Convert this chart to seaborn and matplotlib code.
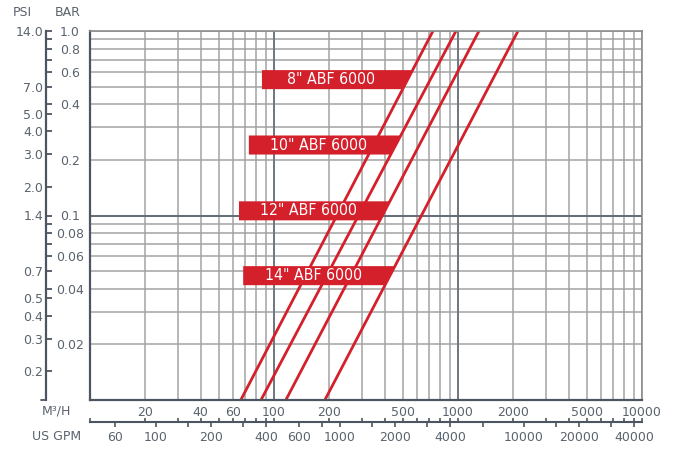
import matplotlib.pyplot as plt
import numpy as np
import pandas as pd
import seaborn as sns
from matplotlib.ticker import NullFormatter

# pressure loss lines, read at the bottom (0.01 bar) and top (1.0 bar) of the grid
sizes = ['8"', '10"', '12"', '14"']
flow_at_low = [66, 85, 116, 189]        # M3/H at 0.01 bar
flow_at_high = [731, 975, 1300, 2119]   # M3/H at 1.0 bar
bar_low = 0.01
bar_high = 1.0

# label bands: centre pressure and left end flow
label_bar = [0.545, 0.241, 0.106, 0.0472]
label_start = [86, 73, 64.5, 68]

bar_ticks = [1.0, 0.8, 0.6, 0.4, 0.2, 0.1, 0.08, 0.06, 0.04, 0.02]
bar_labels = ['1.0', '0.8', '0.6', '0.4', '0.2', '0.1', '0.08', '0.06', '0.04', '0.02']
psi_ticks = [14.0, 7.0, 5.0, 4.0, 3.0, 2.0, 1.4, 0.7, 0.5, 0.4, 0.3, 0.2]
psi_labels = ['14.0', '7.0', '5.0', '4.0', '3.0', '2.0', '1.4', '0.7', '0.5', '0.4', '0.3', '0.2']
psi_minor_bar = [0.9, 0.8, 0.7, 0.6, 0.4, 0.09, 0.08, 0.07, 0.06, 0.04]
m3h_ticks = [20, 40, 60, 100, 200, 500, 1000, 2000, 5000, 10000]
gpm_ticks = [60, 100, 150, 200, 300, 400, 600, 800, 1000, 1500, 2000,
             3000, 4000, 6000, 10000, 15000, 20000, 30000, 40000]
gpm_labelled = [60, 100, 200, 400, 600, 1000, 2000, 4000, 10000, 20000, 40000]

GPM_PER_M3H = 4.4
PSI_PER_BAR = 14.0

RED = '#d4202b'
DARK = '#4c5662'
GRID = '#a3a3a3'
TEXT = '#5a636d'


def decade_values(start, stop):
    vals = [m * 10.0 ** e for e in range(start, stop) for m in range(1, 10)]
    return vals + [10.0 ** stop]


def flow_on_line(i, bar):
    lo, hi = np.log10(flow_at_low[i]), np.log10(flow_at_high[i])
    t = (np.log10(bar) - np.log10(bar_low)) / (np.log10(bar_high) - np.log10(bar_low))
    return 10 ** (lo + t * (hi - lo))


def montar_grade(ax):
    ax.set_xscale('log')
    ax.set_yscale('log')
    ax.set_xlim(10, 10000)
    ax.set_ylim(0.01, 1.0)

    ax.set_xticks(m3h_ticks, labels=[str(v) for v in m3h_ticks])
    ax.set_xticks([v for v in decade_values(1, 4) if v not in m3h_ticks], minor=True)
    ax.set_yticks(bar_ticks, labels=bar_labels)
    ax.set_yticks([v for v in decade_values(-2, 0) if v not in bar_ticks], minor=True)
    ax.xaxis.set_minor_formatter(NullFormatter())
    ax.yaxis.set_minor_formatter(NullFormatter())

    ax.set_axisbelow(True)
    ax.grid(which='both', color=GRID, lw=1.1)
    for v in (100, 1000):
        ax.axvline(v, color='#6b737c', lw=1.3, zorder=1)
    ax.axhline(0.1, color='#5e6873', lw=1.3, zorder=1)

    ax.tick_params(which='both', length=0, labelsize=9, labelcolor=TEXT)
    ax.tick_params(axis='x', pad=4)
    ax.tick_params(axis='y', pad=14.5)
    for lbl in ax.get_yticklabels():
        lbl.set_ha('center')

    for side in ('left', 'bottom'):
        ax.spines[side].set_color(DARK)
        ax.spines[side].set_linewidth(1.6)
    for side in ('top', 'right'):
        ax.spines[side].set_color('#8c8c8c')
        ax.spines[side].set_linewidth(1.2)
    ax.set_xlabel('')
    ax.set_ylabel('')

    return None


def eixos_extras(ax):
    # PSI scale on the far left
    psi = ax.secondary_yaxis(-0.0797, functions=(lambda b: b * PSI_PER_BAR,
                                                  lambda p: p / PSI_PER_BAR))
    psi.set_yticks(psi_ticks, labels=psi_labels)
    psi.set_yticks([b * PSI_PER_BAR for b in psi_minor_bar], minor=True)
    psi.yaxis.set_minor_formatter(NullFormatter())
    psi.tick_params(which='both', direction='in', length=4.3, width=1.3,
                    color=DARK, labelsize=9, labelcolor=TEXT, pad=2)
    psi.spines['left'].set_color(DARK)
    psi.spines['left'].set_linewidth(1.6)
    ax.plot([-0.0797 - 0.009, -0.0797], [0, 0], transform=ax.transAxes,
            color=DARK, lw=1.3, clip_on=False)

    # upward M3/H ticks on the lower scale line
    sub = ax.secondary_xaxis(-0.0596, functions=(lambda x: x, lambda x: x))
    sub.set_xticks(decade_values(1, 4), labels=[''] * 28)
    sub.set_xticks([], minor=True)
    sub.tick_params(which='both', direction='in', length=3.2, width=1.2, color=DARK)
    sub.spines['bottom'].set_color(DARK)
    sub.spines['bottom'].set_linewidth(1.5)

    # US GPM scale
    gpm = ax.secondary_xaxis(-0.0596, functions=(lambda m: m * GPM_PER_M3H,
                                                  lambda g: g / GPM_PER_M3H))
    gpm.set_xticks(gpm_ticks, labels=[str(v) if v in gpm_labelled else '' for v in gpm_ticks])
    gpm.set_xticks([], minor=True)
    gpm.tick_params(which='both', direction='out', length=3.4, width=1.2,
                    color=DARK, labelsize=9, labelcolor=TEXT, pad=3)
    gpm.spines['bottom'].set_visible(False)

    fig = ax.figure
    fig.text(22 / 677, 1 - 12 / 450, 'PSI', ha='center', va='center', fontsize=9, color=TEXT)
    fig.text(68 / 677, 1 - 12 / 450, 'BAR', ha='center', va='center', fontsize=9, color=TEXT)
    fig.text(56 / 677, 1 - 411 / 450, 'M³/H', ha='center', va='center', fontsize=9, color=TEXT)
    fig.text(57 / 677, 1 - 437 / 450, 'US GPM', ha='center', va='center', fontsize=9, color=TEXT)

    return None


def rotulos(ax):
    half = 0.0516  # band half height in decades
    for i, size in enumerate(sizes):
        yb = label_bar[i] / 10 ** half
        yt = label_bar[i] * 10 ** half
        x0 = label_start[i]
        xs = [x0, flow_on_line(i, yb), flow_on_line(i, yt), x0]
        ys = [yb, yb, yt, yt]
        ax.fill(xs, ys, color=RED, lw=0, zorder=3)
        xr = flow_on_line(i, label_bar[i])
        xc = 10 ** ((np.log10(x0) + np.log10(xr)) / 2) * 0.96
        ax.text(xc, label_bar[i], f'{size} ABF 6000', color='white', ha='center',
                va='center', fontsize=11.3, fontstretch='condensed',
                family='DejaVu Sans', zorder=4)

    return None


def gerar_plotagem():
    sns.set_style('white')
    plt.rcParams['font.family'] = ['DejaVu Sans']
    fig, ax = plt.subplots(figsize=(6.77, 4.5), dpi=100)
    fig.subplots_adjust(left=90 / 677, right=642 / 677, bottom=1 - 400 / 450, top=1 - 31 / 450)

    dados = pd.DataFrame({
        'size': sizes + sizes,
        'flow': flow_at_low + flow_at_high,
        'bar': [bar_low] * len(sizes) + [bar_high] * len(sizes),
    })
    sns.lineplot(data=dados, x='flow', y='bar', hue='size', palette=[RED] * len(sizes),
                 legend=False, linewidth=2, estimator=None, ax=ax, zorder=2)

    montar_grade(ax)
    eixos_extras(ax)
    rotulos(ax)

    return fig


if __name__ == '__main__':
    fig = gerar_plotagem()
    fig.savefig('out.png', dpi=100)
